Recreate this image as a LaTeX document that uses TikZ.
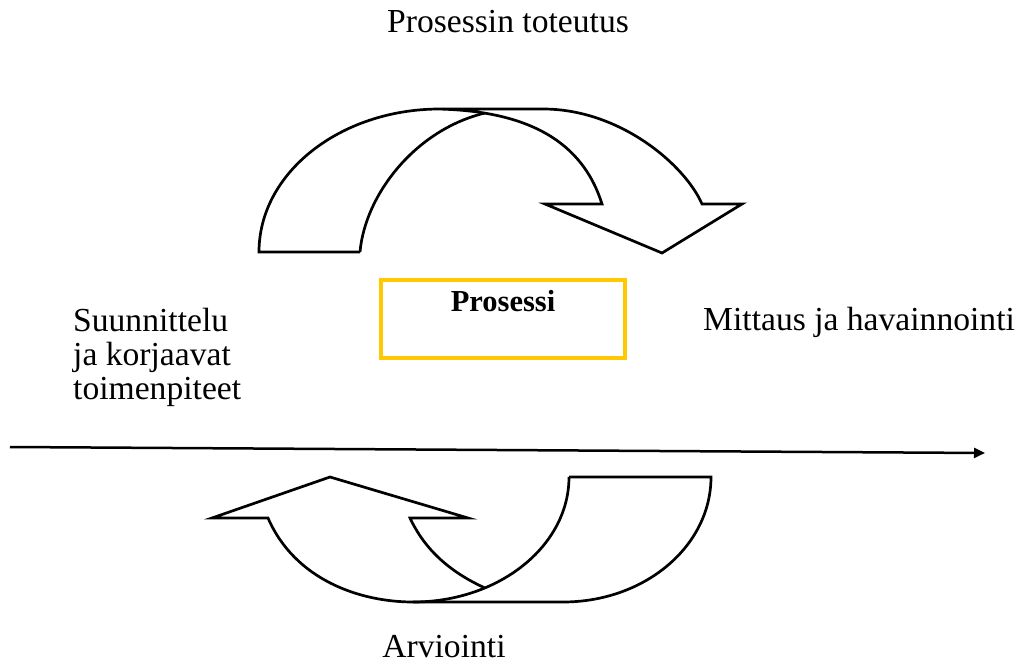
\documentclass[tikz,border=0pt]{standalone}
\usepackage{fontspec}
\setmainfont{Liberation Serif}
\usetikzlibrary{arrows.meta}
\definecolor{boxyellow}{RGB}{255,200,0}
\tikzset{
  label/.style={inner sep=0pt, font=\fontsize{33.6}{34}\selectfont},
  blockarrow/.style={draw=black, line width=2.7pt, line join=miter},
  procbox/.style={draw=boxyellow, line width=4pt, minimum width=244pt, minimum height=78pt, inner sep=0pt},
  timeline/.style={draw=black, line width=2.5pt, -{Triangle[length=11pt,width=10pt]}}
}
\begin{document}
\begin{tikzpicture}[x=1pt,y=-1pt]
\useasboundingbox (0,0) rectangle (1028,663);

% upper curved arrow (implementation)
\draw[blockarrow] (360,252) -- (259,252)
  .. controls (259,173) and (340,109) .. (440,109)
  -- (543,109)
  .. controls (620,109) and (685,165) .. (702,204)
  -- (742,204) -- (662,253) -- (545,204) -- (602,204)
  .. controls (585,150) and (540,111) .. (437,109);
\draw[blockarrow] (360,252) .. controls (365,195) and (415,130) .. (484.6,113.1);

% lower curved arrow (evaluation)
\draw[blockarrow] (569,477) -- (711,477)
  .. controls (711,546) and (645,602) .. (563,602)
  -- (413,602)
  .. controls (360,602) and (295,580) .. (268,518)
  -- (212,518) -- (330,477) -- (468,518) -- (410,518)
  .. controls (425,550) and (450,572) .. (485,588);
\draw[blockarrow] (569,477) .. controls (569,546) and (499,602) .. (413,602);

% process box
\node[procbox] (proc) at (503,319) {};
\node[inner sep=0pt, anchor=base, font=\fontsize{30.5}{32}\selectfont\bfseries] (proclabel) at (503,311) {Prosessi};

% time axis
\coordinate (tstart) at (10,447);
\coordinate (tend) at (985,453);
\draw[timeline] (tstart) -- (tend);

% phase labels
\node[label, anchor=base] (impl) at (508,33) {Prosessin toteutus};
\node[label, anchor=base west] (meas) at (703,330) {Mittaus ja havainnointi};
\node[label, anchor=base] (eval) at (444,657) {Arviointi};
\node[label, anchor=base west, align=left] (plan) at (73,399)
  {Suunnittelu\\ja korjaavat\\toimenpiteet};
\end{tikzpicture}
\end{document}
